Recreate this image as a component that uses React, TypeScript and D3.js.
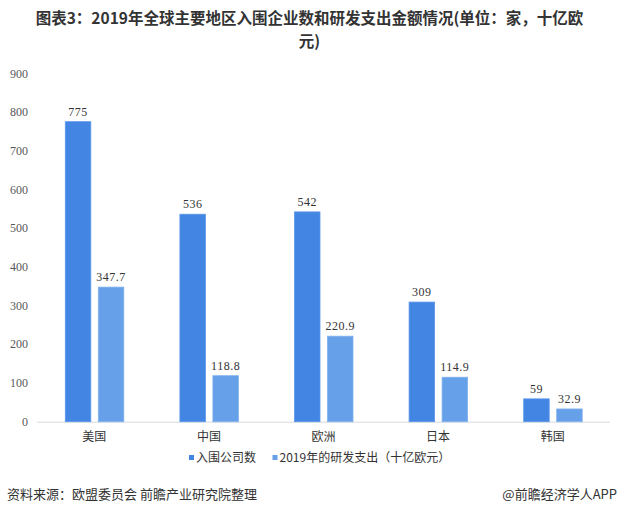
import React from "react";
import * as d3 from "d3";

const categories = ["美国", "中国", "欧洲", "日本", "韩国"];
const companies = [775, 536, 542, 309, 59];
const rdSpend = [347.7, 118.8, 220.9, 114.9, 32.9];
const seriesNames = ["入围公司数", "2019年的研发支出（十亿欧元）"];
const yTicks = [0, 100, 200, 300, 400, 500, 600, 700, 800, 900];
const titleLines = ["图表3：2019年全球主要地区入围企业数和研发支出金额情况(单位：家，十亿欧", "元)"];

const W = 619;
const H = 514;
const colors = ["#4285E3", "#66A0E8"];
const strokes = ["#5b97ea", "#7fb1ee"];

export default function App() {
  const x = d3.scaleBand<string>().domain(categories).range([37, 610]);
  const y = d3.scaleLinear().domain([0, 900]).range([421.7, 73.3]);
  const barW = 25.5;
  const series = [companies, rdSpend];
  const offsets = [-29, 4];

  return (
    <div style={{ position: "absolute", left: 0, top: 0 }}>
      <svg width={W} height={H} style={{ display: "block", background: "#fff" }}>
        <rect width={W} height={H} fill="#fff" />
        {titleLines.map((line, i) => (
          <text
            key={i}
            x={W / 2}
            y={24 + i * 22.8}
            textAnchor="middle"
            fontFamily="'Noto Sans CJK SC', 'Noto Sans', sans-serif"
            fontWeight="bold"
            fontSize={15.5}
            fill="#333"
          >
            {line}
          </text>
        ))}

        {/* y tick labels */}
        {yTicks.map((t) => (
          <text
            key={t}
            x={28}
            y={y(t)}
            dy="0.35em"
            textAnchor="end"
            fontFamily="'Liberation Serif', serif"
            fontSize={12}
            fill="#595959"
          >
            {t}
          </text>
        ))}

        {/* baseline */}
        <line x1={37} x2={610} y1={y(0) + 0.5} y2={y(0) + 0.5} stroke="#d9d9d9" strokeWidth={1} />

        {/* bars */}
        {series.map((vals, si) =>
          vals.map((v, i) => {
            const cx = (x(categories[i]) as number) + x.bandwidth() / 2;
            const bx = cx + offsets[si];
            return (
              <g key={`${si}-${i}`}>
                <rect
                  x={bx}
                  y={y(v)}
                  width={barW}
                  height={y(0) - y(v)}
                  fill={colors[si]}
                  stroke={strokes[si]}
                  strokeWidth={0.8}
                />
                <text
                  x={bx + barW / 2}
                  y={y(v) - 6}
                  textAnchor="middle"
                  fontFamily="'Liberation Serif', serif"
                  fontSize={12}
                  letterSpacing={0.5}
                  fill="#333"
                >
                  {v}
                </text>
              </g>
            );
          })
        )}

        {/* category labels */}
        {categories.map((c) => (
          <text
            key={c}
            x={(x(c) as number) + x.bandwidth() / 2}
            y={441}
            textAnchor="middle"
            fontFamily="'Noto Sans CJK SC', sans-serif"
            fontSize={12}
            fill="#333"
          >
            {c}
          </text>
        ))}

        {/* legend */}
        {[189, 272.5].map((lx, i) => (
          <g key={i}>
            <rect x={lx} y={455} width={5} height={5} fill={colors[i]} />
            <text
              x={lx + 7}
              y={462}
              fontFamily="'Noto Sans CJK SC', sans-serif"
              fontSize={12}
              fill="#333"
            >
              {seriesNames[i]}
            </text>
          </g>
        ))}

        {/* footer */}
        <text
          x={7}
          y={499}
          fontFamily="'Noto Sans CJK SC', sans-serif"
          fontSize={13}
          fill="#333"
        >
          资料来源：欧盟委员会 前瞻产业研究院整理
        </text>
        <text
          x={617}
          y={499}
          textAnchor="end"
          fontFamily="'Noto Sans CJK SC', sans-serif"
          fontSize={13}
          fill="#333"
        >
          @前瞻经济学人APP
        </text>
      </svg>
    </div>
  );
}
